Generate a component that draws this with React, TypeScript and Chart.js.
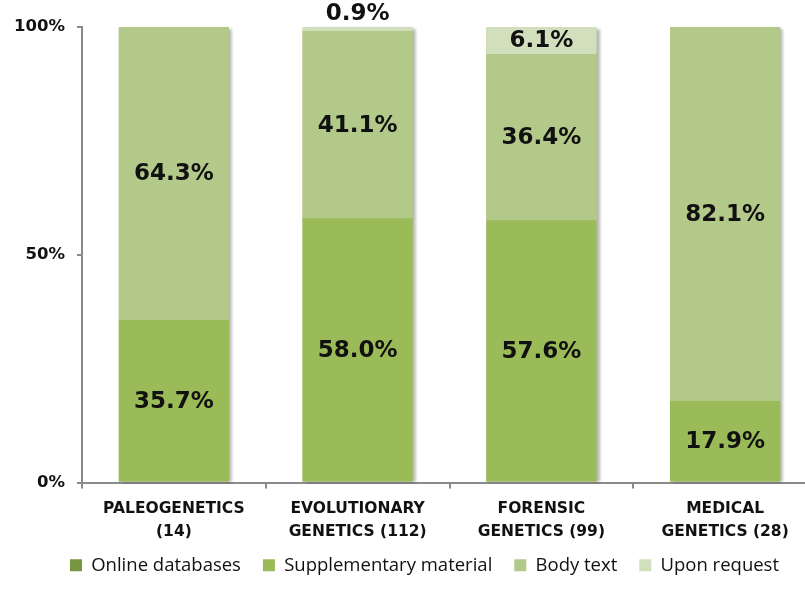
import React, { useEffect, useRef } from "react";
import { Chart, registerables } from "chart.js";

Chart.register(...registerables);

const categories: string[][] = [
  ["PALEOGENETICS", "(14)"],
  ["EVOLUTIONARY", "GENETICS (112)"],
  ["FORENSIC", "GENETICS (99)"],
  ["MEDICAL", "GENETICS (28)"],
];
const seriesNames = ["Online databases", "Supplementary material", "Body text", "Upon request"];
const onlineDatabases = [0, 0, 0, 0];
const supplementaryMaterial = [35.7, 58.0, 57.6, 17.9];
const bodyText = [64.3, 41.1, 36.4, 82.1];
const uponRequest = [0, 0.9, 6.1, 0];
const yTicks = [0, 50, 100];

const colors = ["#77963f", "#9bbb59", "#b2c98a", "#d2dfbd"];

const shadowPlugin = {
  id: "barShadow",
  beforeDatasetsDraw(chart: any) {
    const ctx = chart.ctx;
    const metas = chart.data.datasets.map((_: any, i: number) => chart.getDatasetMeta(i));
    const n = chart.data.labels.length;
    ctx.save();
    for (let j = 0; j < n; j++) {
      let top = Infinity;
      let base = -Infinity;
      let x = 0;
      let w = 0;
      metas.forEach((m: any, i: number) => {
        const el = m.data[j];
        const v = chart.data.datasets[i].data[j];
        if (!el || !v) return;
        top = Math.min(top, el.y);
        base = Math.max(base, el.base);
        x = el.x;
        w = el.width;
      });
      if (!isFinite(top)) continue;
      ctx.shadowColor = "rgba(0,0,0,0.3)";
      ctx.shadowBlur = 3;
      ctx.shadowOffsetX = 3;
      ctx.shadowOffsetY = 0;
      ctx.fillStyle = "#b2c98a";
      ctx.fillRect(x - w / 2, top + 2, w, base - top - 2);
    }
    ctx.restore();
  },
};

const labelPlugin = {
  id: "segLabels",
  afterDatasetsDraw(chart: any) {
    const ctx = chart.ctx;
    ctx.save();
    ctx.font = "bold 23px 'DejaVu Sans'";
    ctx.fillStyle = "#111111";
    ctx.textAlign = "center";
    ctx.textBaseline = "middle";
    chart.data.datasets.forEach((ds: any, i: number) => {
      const meta = chart.getDatasetMeta(i);
      meta.data.forEach((el: any, j: number) => {
        const v = ds.data[j];
        if (!v) return;
        const txt = v.toFixed(1) + "%";
        if (v < 3) {
          ctx.fillText(txt, el.x, el.y - 13);
        } else {
          ctx.fillText(txt, el.x, (el.y + el.base) / 2 + 1);
        }
      });
    });
    ctx.restore();
  },
};

// place the legend where it sits in the reference (shifted right, just under the axis labels)
const legendPlacePlugin = {
  id: "legendPlace",
  afterLayout(chart: any) {
    const lg = chart.legend;
    if (!lg) return;
    const dx = 16;
    const h = lg.bottom - lg.top;
    lg.left += dx;
    lg.right += dx;
    lg.top = 534;
    lg.bottom = 534 + h;
  },
};

export default function App() {
  const ref = useRef<HTMLCanvasElement | null>(null);
  useEffect(() => {
    if (!ref.current) return;
    const seriesData = [onlineDatabases, supplementaryMaterial, bodyText, uponRequest];
    const chart = new Chart(ref.current, {
      type: "bar",
      data: {
        labels: categories,
        datasets: seriesNames.map((name, i) => ({
          label: name,
          data: seriesData[i],
          backgroundColor: colors[i],
          borderWidth: 0,
          barPercentage: 0.6,
          categoryPercentage: 1,
        })),
      },
      options: {
        responsive: false,
        animation: false,
        layout: { padding: { left: 0, right: 39, top: 27, bottom: 7 } },
        plugins: {
          tooltip: { enabled: false },
          legend: {
            position: "bottom",
            labels: {
              boxWidth: 12,
              boxHeight: 12,
              padding: 22,
              color: "#111111",
              font: { family: "'Open Sans'", size: 18.5, weight: 500 },
            },
          },
        },
        scales: {
          x: {
            stacked: true,
            grid: {
              display: true,
              drawOnChartArea: false,
              drawTicks: true,
              tickLength: 6,
              color: "#8a8a8a",
              lineWidth: 2,
            },
            border: { display: true, color: "#8a8a8a", width: 2 },
            ticks: {
              color: "#111111",
              padding: 9,
              font: { family: "'DejaVu Sans'", size: 15.5, weight: "bold", lineHeight: 1.48 },
              maxRotation: 0,
              autoSkip: false,
            },
            afterFit(scale: any) {
              scale.height = 64;
            },
          },
          y: {
            stacked: true,
            min: 0,
            max: 100,
            afterBuildTicks(scale: any) {
              scale.ticks = yTicks.map((v) => ({ value: v }));
            },
            grid: {
              display: true,
              drawOnChartArea: false,
              drawTicks: true,
              tickLength: 5,
              color: "#8a8a8a",
              lineWidth: 2,
            },
            border: { display: true, color: "#8a8a8a", width: 2 },
            ticks: {
              color: "#111111",
              padding: 12,
              font: { family: "'DejaVu Sans'", size: 16.5, weight: "bold" },
              callback: (v: any) => v + "%",
            },
            afterFit(scale: any) {
              scale.width = 82;
            },
          },
        },
      },
      plugins: [shadowPlugin, labelPlugin, legendPlacePlugin],
    });
    return () => chart.destroy();
  }, []);
  return (
    <div style={{ position: "fixed", left: 0, top: 0, width: 856, height: 604, background: "#fff" }}>
      <canvas ref={ref} width={856} height={604} style={{ display: "block" }} />
    </div>
  );
}
